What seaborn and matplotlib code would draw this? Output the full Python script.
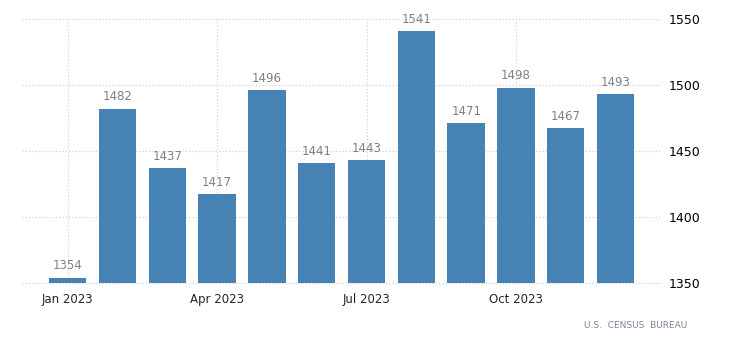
import matplotlib
matplotlib.use("Agg")
import matplotlib.pyplot as plt
import pandas as pd
import seaborn as sns

months = ["Jan", "Feb", "Mar", "Apr", "May", "Jun",
          "Jul", "Aug", "Sep", "Oct", "Nov", "Dec"]
values = [1354, 1482, 1437, 1417, 1496, 1441,
          1443, 1541, 1471, 1498, 1467, 1493]
tick_labels = ["Jan 2023", "Apr 2023", "Jul 2023", "Oct 2023"]
y_ticks = [1350, 1400, 1450, 1500, 1550]

df = pd.DataFrame({"month": months, "value": values})

sns.set_style("white")
plt.rcParams["font.family"] = ["DejaVu Sans"]

fig = plt.figure(figsize=(7.3, 3.51), dpi=100)
ax = fig.add_axes([0.030, 0.194, 0.874, 0.752])

sns.barplot(data=df, x="month", y="value", order=months, color="#4682b4",
            saturation=1, width=0.75, linewidth=0, ax=ax, zorder=2)

for i, v in enumerate(values):
    ax.text(i, v + 4, str(v), ha="center", va="bottom",
            fontsize=8.5, color="#808080")

ax.set_ylim(1350, 1550)
ax.set_xlim(-0.92, 11.89)
ax.set_xticks([0, 3, 6, 9])
ax.set_xticklabels(tick_labels)
ax.set_yticks(y_ticks)
ax.yaxis.tick_right()
ax.tick_params(axis="y", length=0, pad=6, labelsize=9, colors="black")
ax.tick_params(axis="x", length=4, color="#cccccc", pad=3, labelsize=8.5)
ax.set_xlabel("")
ax.set_ylabel("")

grid_style = dict(color="#cccccc", linestyle=(0, (1, 2)), linewidth=0.8)
ax.grid(True, zorder=0, **grid_style)
ax.axhline(1350, clip_on=False, zorder=1, **grid_style)
ax.set_axisbelow(True)
for s in ax.spines.values():
    s.set_visible(False)

fig.text(0.942, 0.073, "U.S.  CENSUS  BUREAU", ha="right", va="center",
         fontsize=6.5, color="#7a8699")

fig.savefig("out.png", dpi=100)
